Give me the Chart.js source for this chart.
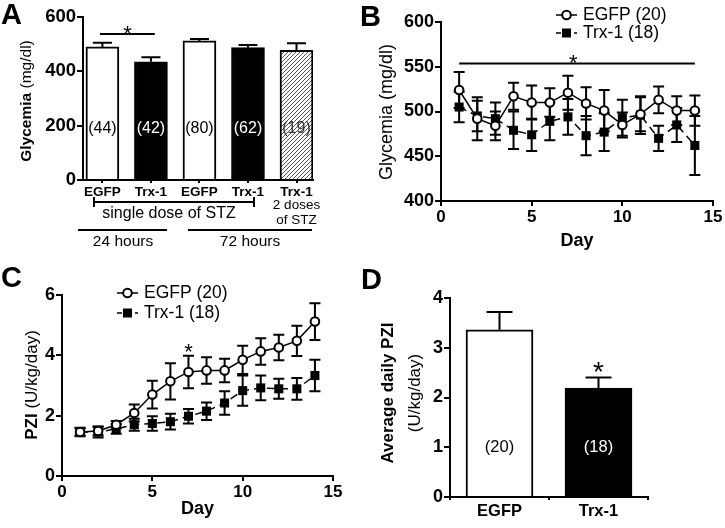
<!DOCTYPE html>
<html>
<head>
<meta charset="utf-8">
<script src="https://cdn.jsdelivr.net/npm/chart.js@4.4.1/dist/chart.umd.min.js"></script>
<style>
  body { margin: 0; background: #fff; }
  #fig { position: relative; width: 725px; height: 528px; overflow: hidden; background: #fff; }
  #fig canvas { position: absolute; }
  .tag { position: absolute; font: bold 29px Arial, 'Liberation Sans', sans-serif; line-height: 1; color: #000; }
</style>
</head>
<body>
<div id="fig">
  <canvas id="chartA" width="360" height="260" style="left:0;top:0"></canvas>
  <canvas id="chartB" width="365" height="260" style="left:360px;top:0"></canvas>
  <canvas id="chartC" width="360" height="268" style="left:0;top:260px"></canvas>
  <canvas id="chartD" width="365" height="268" style="left:360px;top:260px"></canvas>
  <div class="tag" style="left:1px;top:0px">A</div>
  <div class="tag" style="left:360px;top:2px">B</div>
  <div class="tag" style="left:1px;top:263px">C</div>
  <div class="tag" style="left:361px;top:265px">D</div>
</div>
<script>
const FONT = "Arial, 'Liberation Sans', sans-serif";

// ---- panel A: glycemia after STZ
const groupsA = ['EGFP', 'Trx-1', 'EGFP', 'Trx-1', 'Trx-1'];
const glycemiaA = [490, 435, 512, 487, 477];
const glycemiaErrA = [15, 17, 7, 10, 26];
const countsA = ['(44)', '(42)', '(80)', '(62)', '(19)'];

// ---- panels B and C: daily readings
const days = [1, 2, 3, 4, 5, 6, 7, 8, 9, 10, 11, 12, 13, 14];
const glyEgfp = [524, 492, 484, 517, 510, 510, 521, 509, 501, 485, 497, 513, 501, 501];
const glyEgfpErr = [20, 24, 16, 15, 19, 16, 19, 18, 23, 14, 19, 15, 16, 17];
const glyTrx = [505, 495, 492, 479, 474, 489, 494, 473, 477, 493, 496, 470, 485, 462];
const glyTrxErr = [17, 17, 18, 21, 18, 21, 20, 22, 21, 20, 21, 14, 19, 33];
const pziEgfp = [1.46, 1.49, 1.70, 2.09, 2.70, 3.14, 3.45, 3.50, 3.50, 3.85, 4.13, 4.26, 4.48, 5.12];
const pziEgfpErr = [0.12, 0.14, 0.12, 0.28, 0.46, 0.60, 0.54, 0.44, 0.39, 0.47, 0.44, 0.42, 0.50, 0.61];
const pziTrx = [1.46, 1.46, 1.56, 1.70, 1.74, 1.80, 1.98, 2.15, 2.42, 2.83, 2.92, 2.89, 2.89, 3.33];
const pziTrxErr = [0.14, 0.18, 0.16, 0.20, 0.24, 0.26, 0.24, 0.29, 0.39, 0.50, 0.41, 0.33, 0.36, 0.52];
const legendLabels = ['EGFP (20)', 'Trx-1 (18)'];

// ---- panel D: average daily PZI
const groupsD = ['EGFP', 'Trx-1'];
const pziAvg = [3.36, 2.19];
const pziAvgErr = [0.36, 0.21];
const countsD = ['(20)', '(18)'];

Chart.defaults.font.family = FONT;
Chart.defaults.color = '#000';
Chart.defaults.animation = false;
Chart.defaults.plugins.legend.display = false;
Chart.defaults.plugins.tooltip.enabled = false;

function font(size, bold) { return (bold ? 'bold ' : '') + size + 'px ' + FONT; }

function text(ctx, str, x, y, size, bold, align, color) {
    ctx.save();
    ctx.font = font(size, bold);
    ctx.fillStyle = color || '#000';
    ctx.textAlign = align || 'center';
    ctx.textBaseline = 'middle';
    ctx.fillText(str, x, y);
    ctx.restore();
}

// rotated axis title made of parts with their own weight
function vtitle(ctx, parts, cx, cy) {
    ctx.save();
    ctx.translate(cx, cy);
    ctx.rotate(-Math.PI / 2);
    ctx.textBaseline = 'middle';
    ctx.textAlign = 'left';
    ctx.fillStyle = '#000';
    var total = 0, widths = [];
    parts.forEach(p => { ctx.font = font(p[1], p[2]); widths.push(ctx.measureText(p[0]).width); total += widths[widths.length - 1]; });
    var x = -total / 2;
    parts.forEach((p, i) => { ctx.font = font(p[1], p[2]); ctx.fillText(p[0], x, 0); x += widths[i]; });
    ctx.restore();
}

function star(ctx, x, cy, size) {
    ctx.save();
    ctx.font = font(size, false);
    ctx.textAlign = 'center';
    ctx.textBaseline = 'alphabetic';
    ctx.fillStyle = '#000';
    ctx.fillText('*', x, cy + 0.58 * size);
    ctx.restore();
}

function hline(ctx, x1, x2, y, w) {
    ctx.save();
    ctx.strokeStyle = '#000';
    ctx.lineWidth = w || 2;
    ctx.beginPath(); ctx.moveTo(x1, y); ctx.lineTo(x2, y); ctx.stroke();
    ctx.restore();
}

function legendRow(ctx, x, y, square, label) {
    ctx.save();
    ctx.strokeStyle = '#000';
    ctx.lineWidth = 1.5;
    ctx.setLineDash(square ? [5, 4] : []);
    ctx.beginPath(); ctx.moveTo(x, y); ctx.lineTo(x + 21, y); ctx.stroke();
    ctx.setLineDash([]);
    if (square) {
        ctx.fillStyle = '#000';
        ctx.fillRect(x + 6, y - 4.5, 9, 9);
    } else {
        ctx.fillStyle = '#fff';
        ctx.lineWidth = 2;
        ctx.beginPath(); ctx.arc(x + 10.5, y, 4.3, 0, Math.PI * 2); ctx.fill(); ctx.stroke();
    }
    ctx.restore();
    text(ctx, label, x + 27, y, 17.5, false, 'left');
}

// vertical SEM bars from the value arrays, placed with the chart's own y scale
function errorBars(id, sets, behind) {
    var hook = behind ? 'beforeDatasetsDraw' : 'afterDatasetsDraw';
    var p = { id: id };
    p[hook] = function (chart) {
        var ctx = chart.ctx, y = chart.scales.y;
        ctx.save();
        ctx.strokeStyle = '#000';
        ctx.lineWidth = 2;
        sets.forEach(s => {
            chart.getDatasetMeta(s.index).data.forEach((el, j) => {
                var v = s.values[j], e = s.errors[j];
                var top = y.getPixelForValue(v + e);
                var bot = s.upOnly ? el.y : y.getPixelForValue(v - e);
                ctx.beginPath();
                ctx.moveTo(el.x, top); ctx.lineTo(el.x, bot);
                ctx.moveTo(el.x - s.cap / 2, top); ctx.lineTo(el.x + s.cap / 2, top);
                if (!s.upOnly) { ctx.moveTo(el.x - s.cap / 2, bot); ctx.lineTo(el.x + s.cap / 2, bot); }
                ctx.stroke();
            });
        });
        ctx.restore();
    };
    return p;
}

function axisY(min, max, step, width, size) {
    return {
        min: min, max: max,
        ticks: { stepSize: step, font: { size: size, weight: 'bold' }, padding: 1 },
        grid: { drawOnChartArea: false, color: '#000', lineWidth: 2, tickLength: 6 },
        border: { color: '#000', width: 2 },
        afterFit: s => { s.width = width; }
    };
}

function axisDays(height) {
    return {
        type: 'linear', min: 0, max: 15,
        ticks: { stepSize: 5, font: { size: 17, weight: 'bold' }, padding: 1, maxRotation: 0 },
        grid: { drawOnChartArea: false, color: '#000', lineWidth: 2, tickLength: 5 },
        border: { color: '#000', width: 2 },
        afterFit: s => { s.height = height; }
    };
}

function lineSets(egfp, trx) {
    return [{
        data: days.map((d, i) => ({ x: d, y: egfp[i] })),
        borderColor: '#000', borderWidth: 1.5, tension: 0, fill: false,
        pointStyle: 'circle', pointRadius: 4.3, pointBorderWidth: 2,
        pointBackgroundColor: '#fff', pointBorderColor: '#000'
    }, {
        data: days.map((d, i) => ({ x: d, y: trx[i] })),
        borderColor: '#000', borderWidth: 1.5, borderDash: [8, 5], tension: 0, fill: false,
        pointStyle: 'rect', pointRadius: 6.4, pointBorderWidth: 0,
        pointBackgroundColor: '#000', pointBorderColor: '#000'
    }];
}

// ---------------- A
var ctxA = document.getElementById('chartA').getContext('2d');
var hatchTile = document.createElement('canvas');
hatchTile.width = 4; hatchTile.height = 4;
var ht = hatchTile.getContext('2d');
ht.fillStyle = '#fff'; ht.fillRect(0, 0, 4, 4);
ht.strokeStyle = '#555'; ht.lineWidth = 1;
ht.beginPath();
ht.moveTo(0, 4); ht.lineTo(4, 0);
ht.moveTo(-1, 1); ht.lineTo(1, -1);
ht.moveTo(3, 5); ht.lineTo(5, 3);
ht.stroke();
var hatch = ctxA.createPattern(hatchTile, 'repeat');

var decorA = {
    id: 'decorA',
    afterDraw(chart) {
        var ctx = chart.ctx, x = chart.scales.x, y = chart.scales.y;
        vtitle(ctx, [['Glycemia', 15.5, true], [' (mg/dl)', 15.5, false]], 27, 101);
        var inkColors = ['#000', '#fff', '#000', '#fff', '#333'];
        countsA.forEach((t, i) => text(ctx, t, x.getPixelForValue(i + 1), y.getPixelForValue(190), 16, false, 'center', inkColors[i]));
        var sy = y.getPixelForValue(537);
        hline(ctx, x.getPixelForValue(0.95), x.getPixelForValue(2.08), sy, 2);
        star(ctx, x.getPixelForValue(1.52), sy - 6, 22);
        // bracket: single dose of STZ
        hline(ctx, 93, 255, 202, 2);
        ctx.save(); ctx.strokeStyle = '#000'; ctx.lineWidth = 2;
        ctx.beginPath(); ctx.moveTo(94, 197); ctx.lineTo(94, 207); ctx.moveTo(254, 197); ctx.lineTo(254, 207); ctx.stroke();
        ctx.restore();
        text(ctx, 'single dose of STZ', 169, 214, 16, false);
        text(ctx, '2 doses', 296.5, 205, 13.5, false);
        text(ctx, 'of STZ', 296.5, 220, 13.5, false);
        hline(ctx, 78, 167, 230, 2);
        hline(ctx, 188, 312, 230, 2);
        text(ctx, '24 hours', 123, 242, 15.5, false);
        text(ctx, '72 hours', 250, 242, 15.5, false);
    }
};

new Chart(ctxA, {
    type: 'bar',
    data: {
        datasets: [{
            data: glycemiaA.map((v, i) => ({ x: i + 1, y: v })),
            backgroundColor: ['#fff', '#000', '#fff', '#000', hatch],
            borderColor: '#000', borderWidth: 2, borderSkipped: 'bottom',
            barThickness: 33
        }]
    },
    options: {
        responsive: false, devicePixelRatio: 1,
        layout: { padding: { top: 17, right: 47, left: 0, bottom: 0 } },
        scales: {
            x: {
                type: 'linear', min: 0.6, max: 5.34, offset: false,
                grid: { drawOnChartArea: false, offset: false, color: '#000', lineWidth: 2, tickLength: 3 },
                border: { color: '#000', width: 2 },
                ticks: { autoSkip: false, maxRotation: 0, padding: 1, font: { size: 13.5, weight: 'bold' },
                    callback: v => groupsA[v - 1] },
                afterBuildTicks: s => { s.ticks = groupsA.map((g, i) => ({ value: i + 1 })); },
                afterFit: s => { s.height = 80; }
            },
            y: axisY(0, 600, 200, 83, 18.5)
        }
    },
    plugins: [errorBars('errA', [{ index: 0, values: glycemiaA, errors: glycemiaErrA, cap: 19, upOnly: true }], false), decorA]
});

// ---------------- B
var decorB = {
    id: 'decorB',
    afterDraw(chart) {
        var ctx = chart.ctx, x = chart.scales.x, y = chart.scales.y;
        vtitle(ctx, [['Glycemia (mg/dl)', 18, false]], 27, 112);
        text(ctx, 'Day', (chart.chartArea.left + chart.chartArea.right) / 2, 241, 18, true);
        var sy = y.getPixelForValue(553.5);
        hline(ctx, x.getPixelForValue(1), x.getPixelForValue(14), sy, 2);
        star(ctx, x.getPixelForValue(7.3), sy - 6, 22);
        legendRow(ctx, 196, 15, false, legendLabels[0]);
        legendRow(ctx, 196, 33, true, legendLabels[1]);
    }
};

new Chart(document.getElementById('chartB'), {
    type: 'line',
    data: { datasets: lineSets(glyEgfp, glyTrx) },
    options: {
        responsive: false, devicePixelRatio: 1,
        layout: { padding: { top: 22, right: 12, left: 0, bottom: 0 } },
        scales: { x: axisDays(59), y: axisY(400, 600, 50, 81, 18) }
    },
    plugins: [errorBars('errB', [
        { index: 0, values: glyEgfp, errors: glyEgfpErr, cap: 11 },
        { index: 1, values: glyTrx, errors: glyTrxErr, cap: 11 }
    ], true), decorB]
});

// ---------------- C
var decorC = {
    id: 'decorC',
    afterDraw(chart) {
        var ctx = chart.ctx, x = chart.scales.x, y = chart.scales.y;
        vtitle(ctx, [['PZI', 17, true], [' (U/kg/day)', 17, false]], 32, 125);
        text(ctx, 'Day', (chart.chartArea.left + chart.chartArea.right) / 2, 249, 18, true);
        star(ctx, x.getPixelForValue(7), y.getPixelForValue(4.29), 22);
        legendRow(ctx, 117, 33, false, legendLabels[0]);
        legendRow(ctx, 117, 53, true, legendLabels[1]);
    }
};

new Chart(document.getElementById('chartC'), {
    type: 'line',
    data: { datasets: lineSets(pziEgfp, pziTrx) },
    options: {
        responsive: false, devicePixelRatio: 1,
        layout: { padding: { top: 35, right: 27, left: 0, bottom: 0 } },
        scales: { x: axisDays(52), y: axisY(0, 6, 2, 62, 18) }
    },
    plugins: [errorBars('errC', [
        { index: 0, values: pziEgfp, errors: pziEgfpErr, cap: 11 },
        { index: 1, values: pziTrx, errors: pziTrxErr, cap: 11 }
    ], true), decorC]
});

// ---------------- D
var decorD = {
    id: 'decorD',
    afterDraw(chart) {
        var ctx = chart.ctx, x = chart.scales.x, y = chart.scales.y;
        vtitle(ctx, [['Average daily PZI', 17, true]], 28, 133);
        vtitle(ctx, [['(U/kg/day)', 17, false]], 55, 133);
        var inkColors = ['#000', '#fff'];
        countsD.forEach((t, i) => text(ctx, t, x.getPixelForValue(i), y.getPixelForValue(1), 16.5, false, 'center', inkColors[i]));
        star(ctx, x.getPixelForValue(1), y.getPixelForValue(2.66), 28);
    }
};

new Chart(document.getElementById('chartD'), {
    type: 'bar',
    data: {
        labels: groupsD,
        datasets: [{
            data: pziAvg,
            backgroundColor: ['#fff', '#000'],
            borderColor: '#000', borderWidth: 2, borderSkipped: 'bottom',
            barThickness: 67
        }]
    },
    options: {
        responsive: false, devicePixelRatio: 1,
        layout: { padding: { top: 38, right: 77, left: 0, bottom: 0 } },
        scales: {
            x: {
                grid: { drawOnChartArea: false, color: '#000', lineWidth: 2, tickLength: 3 },
                border: { color: '#000', width: 2 },
                ticks: { font: { size: 16.5, weight: 'bold' }, padding: 2, maxRotation: 0 },
                afterFit: s => { s.height = 31; }
            },
            y: axisY(0, 4, 1, 90, 18)
        }
    },
    plugins: [errorBars('errD', [{ index: 0, values: pziAvg, errors: pziAvgErr, cap: 26, upOnly: true }], false), decorD]
});
</script>
</body>
</html>
